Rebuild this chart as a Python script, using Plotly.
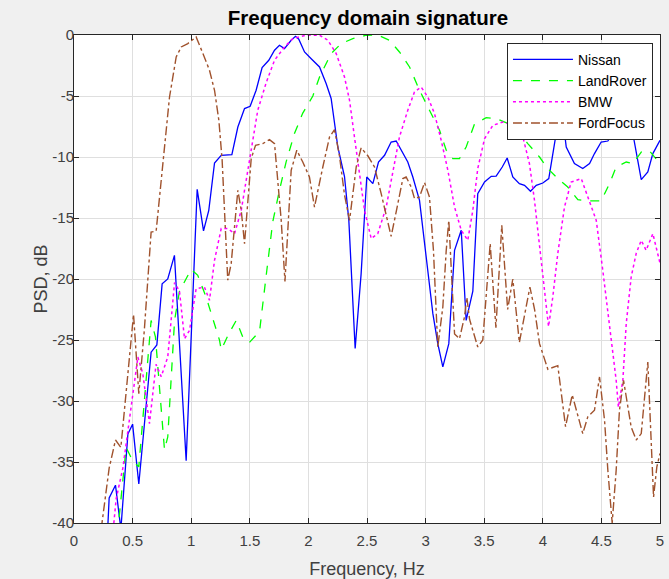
import plotly.graph_objects as go

# ---- data ----
nissan_f = [0.28, 0.30, 0.354, 0.40, 0.46, 0.50, 0.553, 0.658, 0.707, 0.752, 0.80, 0.857, 0.957,
            1.051, 1.105, 1.15, 1.199, 1.256, 1.347, 1.398, 1.455, 1.503, 1.554, 1.605, 1.662, 1.711,
            1.753, 1.796, 1.853, 1.89, 1.918, 1.967, 2.024, 2.095, 2.152, 2.194, 2.251, 2.308, 2.345,
            2.399, 2.45, 2.498, 2.55, 2.598, 2.65, 2.706, 2.749, 2.792, 2.848, 2.891, 2.948, 3.005,
            3.062, 3.104, 3.147, 3.198, 3.247, 3.304, 3.346, 3.403, 3.445, 3.503, 3.56, 3.602, 3.654,
            3.696, 3.744, 3.80, 3.844, 3.895, 3.944, 4.0, 4.051, 4.114, 4.16, 4.2, 4.27, 4.341, 4.399,
            4.441, 4.498, 4.555, 4.597, 4.65, 4.70, 4.763, 4.84, 4.896, 4.939, 5.0]
nissan_db = [-42, -37.95, -36.9, -40.5, -32.7, -31.9, -36.8, -26.0, -25.4, -20.4, -20.0, -18.06, -34.9,
             -12.65, -16.06, -14.37, -10.49, -9.86, -9.8, -7.54, -6.03, -5.84, -4.53, -2.67, -2.07, -1.25,
             -0.84, -1.12, -0.43, -0.11, -0.34, -1.39, -1.94, -2.62, -3.99, -5.2, -9.18, -11.6, -15.19,
             -25.7, -19.56, -11.64, -12.18, -10.41, -9.86, -8.77, -8.69, -9.45, -10.41, -11.64, -13.55, -18.2,
             -22.84, -25.3, -27.2, -25.3, -17.65, -16.0, -23.4, -21.0, -13.0, -12.05, -11.58, -11.56, -10.82,
             -10.08, -11.64, -12.18, -12.32, -12.81, -12.32, -12.13, -11.77, -8.08, -6.0, -9.18, -10.54, -10.95, -10.54,
             -9.72, -8.77, -8.69, -8.08, -6.3, -6.8, -7.8, -11.85, -11.23, -9.72, -8.63]

landrover_f = [0.37, 0.445, 0.50, 0.553, 0.658, 0.695, 0.772, 0.80, 0.858, 0.90, 1.0, 1.056, 1.128,
               1.241, 1.256, 1.32, 1.384, 1.44, 1.497, 1.583, 1.64, 1.696, 1.753, 1.81, 1.881, 1.952,
               2.038, 2.095, 2.194, 2.28, 2.379, 2.493, 2.592, 2.692, 2.777, 2.863, 2.948, 3.033, 3.119,
               3.176, 3.232, 3.289, 3.346, 3.417, 3.517, 3.602, 3.744, 3.872, 3.972, 4.043, 4.128, 4.213,
               4.299, 4.384, 4.498, 4.569, 4.626, 4.712, 4.768, 4.84, 4.91, 5.0]
landrover_db = [-41, -33.8, -34.9, -35.4, -23.4, -24.75, -34.0, -32.95, -23.4, -21.0, -19.2, -19.7, -21.5,
                -25.0, -25.8, -24.5, -23.4, -24.75, -25.2, -24.3, -19.7, -15.3, -12.73, -10.4, -8.08, -6.4,
                -5.0, -3.44, -1.52, -0.7, -0.3, -0.02, 0.0, -0.43, -1.39, -2.62, -4.53, -6.17, -7.81,
                -9.45, -10.13, -10.13, -9.18, -7.3, -6.78, -6.86, -7.4, -8.9, -10.0, -10.95, -11.77, -12.46,
                -13.5, -13.6, -13.6, -12.18, -10.82, -10.41, -10.54, -9.59, -9.5, -10.54]

bmw_f = [0.33, 0.36, 0.417, 0.46, 0.502, 0.545, 0.587, 0.644, 0.70, 0.744, 0.80, 0.829, 0.858, 0.90,
         0.943, 0.986, 1.042, 1.113, 1.156, 1.199, 1.256, 1.312, 1.37, 1.427, 1.483, 1.526, 1.568, 1.64,
         1.711, 1.796, 1.867, 1.98, 2.095, 2.166, 2.237, 2.308, 2.351, 2.393, 2.436, 2.479, 2.536, 2.592,
         2.664, 2.72, 2.777, 2.848, 2.905, 2.962, 3.019, 3.076, 3.133, 3.19, 3.247, 3.304, 3.36, 3.403,
         3.445, 3.503, 3.574, 3.659, 3.744, 3.83, 3.886, 3.929, 3.972, 4.015, 4.049, 4.085, 4.128, 4.185,
         4.242, 4.328, 4.384, 4.456, 4.512, 4.569, 4.626, 4.645, 4.683, 4.712, 4.754, 4.797, 4.84, 4.882,
         4.939, 5.0]
bmw_db = [-41, -38.0, -35.5, -32.4, -29.7, -26.4, -27.75, -31.85, -27.0, -28.0, -26.4, -23.1, -20.3, -21.0,
          -24.9, -24.2, -20.8, -20.66, -21.75, -18.47, -15.87, -15.87, -16.28, -14.37, -11.09, -8.36, -6.17, -3.9,
          -2.07, -0.98, -0.3, -0.02, -0.02, -0.43, -1.52, -3.44, -5.35, -8.36, -11.36, -14.37, -16.69, -16.28,
          -14.1, -11.09, -8.36, -6.17, -4.67, -4.26, -5.08, -6.44, -8.63, -11.09, -14.1, -16.0, -16.83, -14.37,
          -10.95, -8.5, -7.4, -7.13, -7.4, -8.36, -10.54, -13.55, -17.1, -20.9, -23.9, -21.5, -17.9, -14.1,
          -12.05, -11.77, -13.28, -15.19, -19.3, -23.9, -28.3, -30.5, -28.3, -23.65, -19.84, -17.9, -16.83, -17.65,
          -16.28, -18.7]

ford_f = [0.232, 0.30, 0.354, 0.40, 0.508, 0.553, 0.60, 0.63, 0.658, 0.701, 0.758, 0.815, 0.872, 0.915,
          0.971, 1.042, 1.10, 1.156, 1.199, 1.236, 1.264, 1.29, 1.312, 1.341, 1.398, 1.427, 1.455, 1.512,
          1.549, 1.611, 1.668, 1.711, 1.739, 1.768, 1.80, 1.853, 1.901, 1.952, 2.009, 2.052, 2.123, 2.18,
          2.223, 2.265, 2.308, 2.351, 2.408, 2.45, 2.507, 2.564, 2.621, 2.706, 2.749, 2.806, 2.834, 2.877,
          2.905, 2.948, 2.991, 3.033, 3.067, 3.104, 3.147, 3.176, 3.198, 3.218, 3.247, 3.289, 3.332, 3.352,
          3.375, 3.445, 3.488, 3.551, 3.60, 3.65, 3.70, 3.744, 3.80, 3.89, 3.93, 3.972, 4.043, 4.128,
          4.165, 4.194, 4.251, 4.341, 4.384, 4.441, 4.484, 4.527, 4.555, 4.592, 4.626, 4.654, 4.689, 4.717,
          4.754, 4.797, 4.84, 4.896, 4.945, 4.973, 5.0]
ford_db = [-40.5, -35.5, -33.2, -33.8, -22.9, -29.4, -24.2, -19.6, -16.15, -16.07, -10.8, -5.08, -1.8, -0.98,
           -0.7, -0.16, -1.52, -2.89, -4.53, -6.99, -10.27, -15.19, -20.1, -18.74, -12.73, -14.37, -17.1, -10.13,
           -9.04, -8.9, -8.58, -8.9, -11.9, -15.19, -20.2, -11.09, -9.45, -10.41, -11.64, -14.1, -10.82, -8.36,
           -7.75, -9.9, -13.1, -15.19, -10.82, -9.25, -9.9, -10.82, -13.0, -16.5, -14.5, -11.77, -11.64, -12.46,
           -13.4, -13.28, -12.1, -13.28, -17.65, -25.57, -22.3, -17.65, -15.19, -19.0, -24.5, -24.9, -23.1, -21.5,
           -23.3, -25.57, -25.0, -17.1, -24.0, -15.6, -22.5, -20.0, -25.2, -20.66, -22.5, -25.3, -27.4, -27.1,
           -29.8, -32.1, -29.5, -32.67, -31.3, -30.76, -28.03, -31.58, -35.68, -40.0, -35.68, -30.76, -28.3, -29.94,
           -32.13, -33.2, -32.67, -26.8, -37.87, -35.4, -34.3]

x_ticks = [0, 0.5, 1, 1.5, 2, 2.5, 3, 3.5, 4, 4.5, 5]
x_tick_text = ["0", "0.5", "1", "1.5", "2", "2.5", "3", "3.5", "4", "4.5", "5"]
y_ticks = [0, -5, -10, -15, -20, -25, -30, -35, -40]
y_tick_text = ["0", "-5", "-10", "-15", "-20", "-25", "-30", "-35", "-40"]

FONT = "Liberation Sans, Arial, sans-serif"
AX = "#262626"

fig = go.Figure()
fig.add_trace(go.Scatter(x=nissan_f, y=nissan_db, mode="lines", name="Nissan",
                         line=dict(color="#0000ff", width=1.3, dash="solid")))
fig.add_trace(go.Scatter(x=landrover_f, y=landrover_db, mode="lines", name="LandRover",
                         line=dict(color="#00ff00", width=1.3, dash="dash")))
fig.add_trace(go.Scatter(x=bmw_f, y=bmw_db, mode="lines", name="BMW",
                         line=dict(color="#ff00ff", width=1.5, dash="dot")))
fig.add_trace(go.Scatter(x=ford_f, y=ford_db, mode="lines", name="FordFocus",
                         line=dict(color="#a0522d", width=1.4, dash="dashdot")))

axis_common = dict(showgrid=True, gridcolor="#dfdfdf", gridwidth=1, zeroline=False,
                   showline=True, linecolor=AX, linewidth=1, mirror="ticks",
                   ticks="inside", ticklen=5, tickcolor=AX,
                   ticklabeloverflow="allow",
                   tickfont=dict(family=FONT, size=15, color="#404040"))

fig.update_layout(
    width=669, height=579,
    paper_bgcolor="#f0f0f0", plot_bgcolor="#ffffff",
    margin=dict(l=74, r=9, t=35, b=56),
    title=dict(text="<b>Frequency domain signature</b>", x=0.55, xanchor="center",
               y=0.981, yanchor="top", font=dict(family=FONT, size=20.5, color="#000000")),
    xaxis=dict(range=[0, 5], tickvals=x_ticks, ticktext=x_tick_text, ticklabelstandoff=4,
               automargin=False,
               title=dict(text="Frequency, Hz", font=dict(family=FONT, size=18, color="#404040")),
               **axis_common),
    yaxis=dict(range=[-40, 0], tickvals=y_ticks, ticktext=y_tick_text, ticklabelstandoff=-4,
               automargin=True,
               title=dict(text="PSD, dB", standoff=0,
                          font=dict(family=FONT, size=18, color="#404040")),
               **axis_common),
    legend=dict(x=0.988, y=0.984, xanchor="right", yanchor="top",
                bgcolor="#ffffff", bordercolor="#262626", borderwidth=1,
                font=dict(family=FONT, size=14, color="#000000"),
                tracegroupgap=0, itemwidth=60),
    showlegend=True,
)

fig.write_html("out.html", config={"displayModeBar": False},
               post_script="document.body.style.margin='0';document.body.style.background='#f0f0f0';")
